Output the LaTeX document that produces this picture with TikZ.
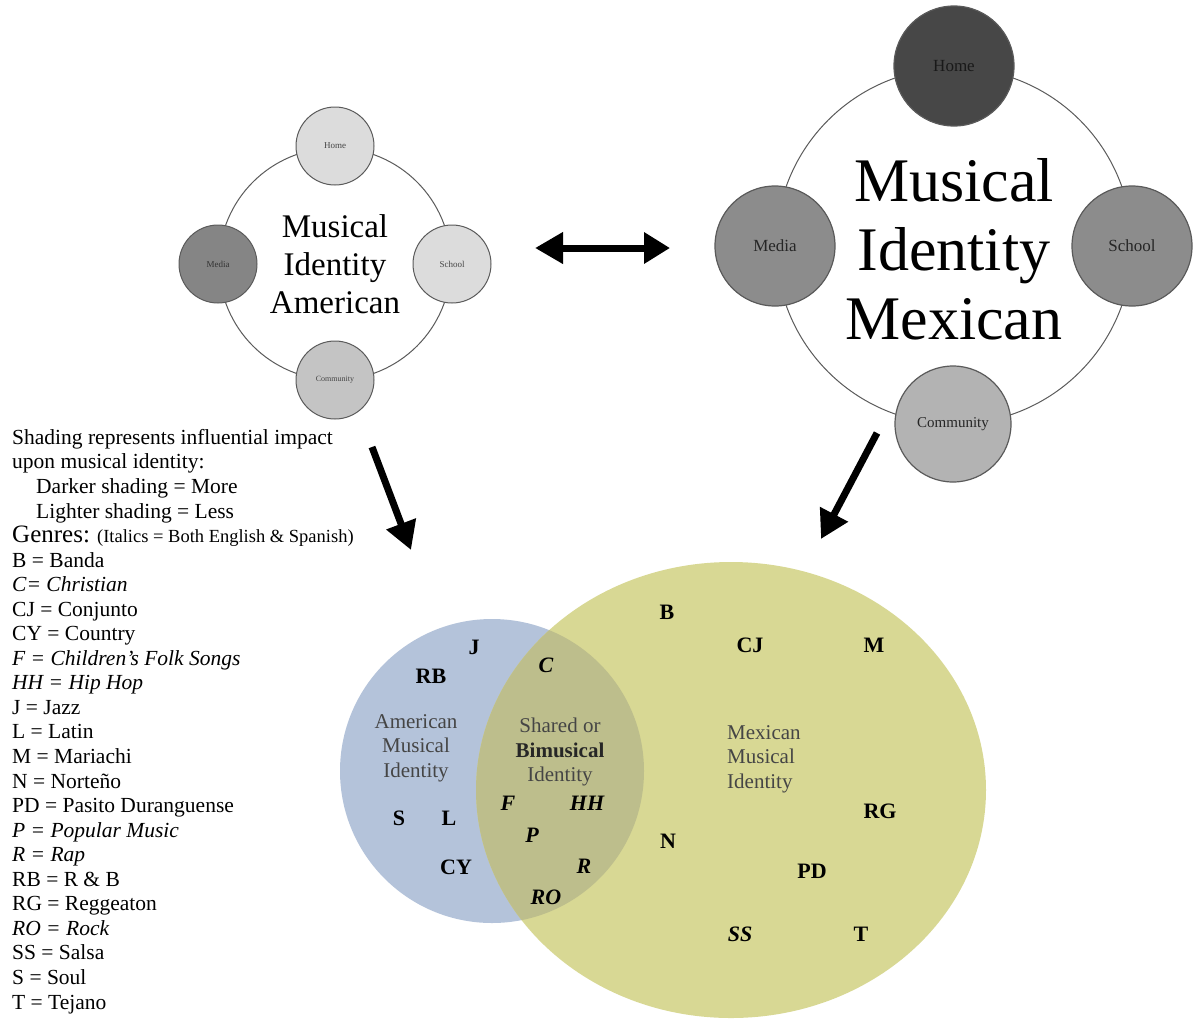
\documentclass[tikz,border=0pt]{standalone}
\usepackage{fontspec}
\setmainfont{Liberation Serif}
\usetikzlibrary{arrows.meta}
\definecolor{ringc}{HTML}{5A5A5A}
\definecolor{lightsat}{HTML}{DCDCDC}
\definecolor{midsat}{HTML}{C4C4C4}
\definecolor{darksat}{HTML}{858585}
\definecolor{rhome}{HTML}{474747}
\definecolor{rmid}{HTML}{8C8C8C}
\definecolor{rcomm}{HTML}{B3B3B3}
\definecolor{venblue}{HTML}{B4C3DA}
\definecolor{venyellow}{HTML}{D8D894}
\definecolor{venover}{HTML}{BDBE8C}
\definecolor{graytxt}{HTML}{454545}
\tikzset{
  ring/.style={circle, draw=ringc, line width=1pt, inner sep=0pt},
  satS/.style={circle, draw=ringc, line width=1pt, minimum size=78pt, inner sep=0pt, text=graytxt, font=\fontsize{9}{10}\selectfont},
  satL/.style={circle, draw=ringc, line width=1.2pt, minimum size=120pt, inner sep=0pt, text=black!85, font=\fontsize{17}{19}\selectfont},
  bigarrow/.style={line width=7pt, black},
  genre/.style={font=\fontsize{22}{24}\selectfont\bfseries, inner sep=0pt},
  igenre/.style={font=\fontsize{22}{24}\selectfont\bfseries\itshape, inner sep=0pt},
  venlabel/.style={font=\fontsize{21}{24.5}\selectfont, text=graytxt, inner sep=0pt}
}
\begin{document}
\begin{tikzpicture}[x=1pt,y=-1pt]
\useasboundingbox (0,0) rectangle (1194,1021);

% ---------- American group ----------
\node[ring, minimum size=232pt] (amRing) at (335,264) {};
\node[satS, fill=lightsat] (amHome) at (335,146) {Home};
\node[satS, fill=darksat, text=black!80] (amMedia) at (218,264) {Media};
\node[satS, fill=lightsat] (amSchool) at (452,264) {School};
\node[satS, fill=midsat, font=\fontsize{8}{9}\selectfont] (amComm) at (335,380) {Community};
\node[align=center, font=\fontsize{33}{38}\selectfont, inner sep=0pt] (amText) at (335,264) {Musical\\Identity\\American};

% ---------- Mexican group ----------
\node[ring, minimum size=356pt] (mxRing) at (954,246) {};
\node[satL, fill=rhome, text=black!90] (mxHome) at (954,66) {Home};
\node[satL, fill=rmid] (mxMedia) at (775,246) {Media};
\node[satL, fill=rmid] (mxSchool) at (1132,246) {School};
\node[satL, fill=rcomm, minimum size=116pt, font=\fontsize{15}{17}\selectfont] (mxComm) at (953,424) {Community};
\node[align=center, font=\fontsize{62}{69}\selectfont, inner sep=0pt] (mxText) at (954,249) {Musical\\Identity\\Mexican};

% ---------- arrows ----------
\coordinate (dblL) at (535,248);
\coordinate (dblR) at (670,248);
\draw[bigarrow, {Triangle[length=28pt,width=30pt]}-{Triangle[length=26pt,width=30pt]}] (dblL) -- (dblR);
\coordinate (a1s) at (372,447);
\coordinate (a1e) at (411,550);
\draw[bigarrow, -{Triangle[length=28pt,width=30pt]}] (a1s) -- (a1e);
\coordinate (a2s) at (877,433);
\coordinate (a2e) at (821,539);
\draw[bigarrow, -{Triangle[length=28pt,width=30pt]}] (a2s) -- (a2e);

% ---------- legend ----------
\node[anchor=north west, align=left, inner sep=0pt, font=\fontsize{21.5}{24.55}\selectfont] (legend) at (12,429) {%
Shading represents influential impact\\
upon musical identity:\\
\hspace*{24pt}Darker shading = More\\
\hspace*{24pt}Lighter shading = Less\\
{\fontsize{25}{24.55}\selectfont Genres:} {\fontsize{18.5}{24.55}\selectfont (Italics = Both English \& Spanish)}\\
B = Banda\\
\textit{C= Christian}\\
CJ = Conjunto\\
CY = Country\\
\textit{F = Children’s Folk Songs}\\
\textit{HH = Hip Hop}\\
J = Jazz\\
L = Latin\\
M = Mariachi\\
N = Norteño\\
PD = Pasito Duranguense\\
\textit{P = Popular Music}\\
\textit{R = Rap}\\
RB = R \& B\\
RG = Reggeaton\\
\textit{RO = Rock}\\
SS = Salsa\\
S = Soul\\
T = Tejano};

% ---------- Venn ----------
\coordinate (blueC) at (492,771);
\coordinate (yellowC) at (731,790);
\fill[venblue] (blueC) circle (152);
\fill[venyellow] (yellowC) ellipse [x radius=255, y radius=228];
\begin{scope}
  \clip (blueC) circle (152);
  \fill[venover] (yellowC) ellipse [x radius=255, y radius=228];
\end{scope}

\node[venlabel, align=center] (vAm) at (416,748) {American\\Musical\\Identity};
\node[venlabel, align=center] (vSh) at (560,752) {Shared or\\\textbf{\textcolor{black!85}{Bimusical}}\\Identity};
\node[venlabel, align=left, anchor=west] (vMx) at (727,759) {Mexican\\Musical\\Identity};

\node[genre] (gJ) at (474,647) {J};
\node[genre] (gRB) at (431,676) {RB};
\node[igenre] (gC) at (546,665) {C};
\node[igenre] (gF) at (508,803) {F};
\node[igenre] (gHH) at (587,803) {HH};
\node[igenre] (gP) at (532,835) {P};
\node[igenre] (gR) at (584,866) {R};
\node[igenre] (gRO) at (546,897) {RO};
\node[genre] (gS) at (399,818) {S};
\node[genre] (gL) at (449,818) {L};
\node[genre] (gCY) at (456,867) {CY};
\node[genre] (gB) at (667,612) {B};
\node[genre] (gCJ) at (750,645) {CJ};
\node[genre] (gM) at (874,645) {M};
\node[genre] (gRG) at (880,811) {RG};
\node[genre] (gN) at (668,841) {N};
\node[genre] (gPD) at (812,871) {PD};
\node[igenre] (gSS) at (740,934) {SS};
\node[genre] (gT) at (861,934) {T};
\end{tikzpicture}
\end{document}
